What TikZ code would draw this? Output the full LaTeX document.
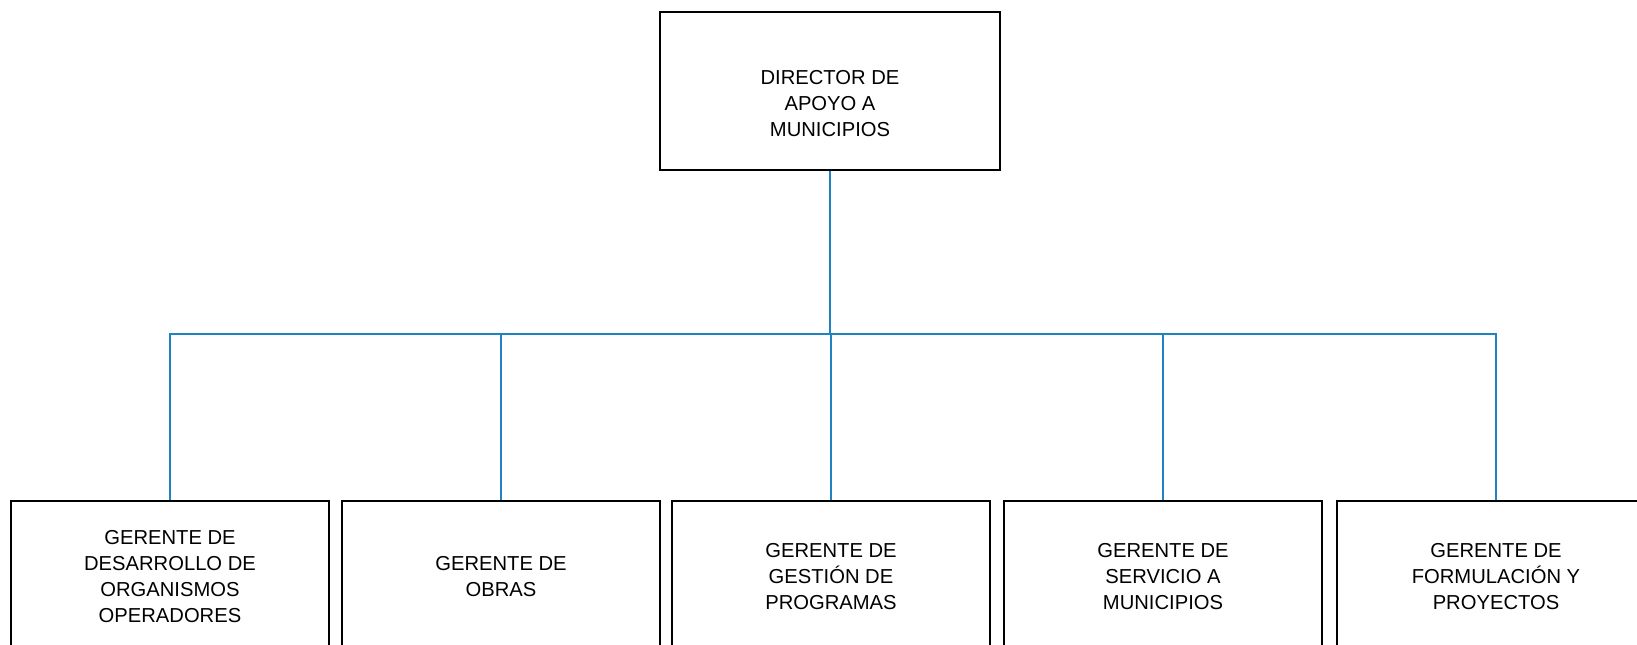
\documentclass[tikz,border=0pt]{standalone}
\usepackage{fontspec}
\setmainfont{Liberation Sans}
\definecolor{linkblue}{RGB}{30,130,195}
\tikzset{
  box/.style={draw, line width=1.1pt, align=center, font=\fontsize{11.5}{14.8}\selectfont},
  dirbox/.style={box, minimum width=6.8cm, minimum height=3.16cm, text height=52pt},
  gerbox/.style={box, minimum width=6.36cm, minimum height=3.04cm},
  link/.style={draw=linkblue, line width=1.2pt},
}
\begin{document}
\begin{tikzpicture}[x=0.02cm, y=-0.02cm]
	\useasboundingbox (0,0) rectangle (1637,645);
	\clip (0,0) rectangle (1637,645);

	\draw (830, 91) 	node[dirbox] 	(dir) 		{DIRECTOR DE\\APOYO A\\MUNICIPIOS};
	\draw (170, 577) 	node[gerbox] 	(g_des) 	{GERENTE DE\\DESARROLLO DE\\ORGANISMOS\\OPERADORES};
	\draw (501, 577) 	node[gerbox] 	(g_obr) 	{GERENTE DE\\OBRAS};
	\draw (831, 577) 	node[gerbox] 	(g_ges) 	{GERENTE DE\\GESTIÓN DE\\PROGRAMAS};
	\draw (1163, 577) 	node[gerbox] 	(g_ser) 	{GERENTE DE\\SERVICIO A\\MUNICIPIOS};
	\draw (1496, 577) 	node[gerbox] 	(g_for) 	{GERENTE DE\\FORMULACIÓN Y\\PROYECTOS};
	\coordinate (bus) at (830, 334);

	\draw[link, line width=1.6pt] (dir.south) -- (bus);
	\draw[link] (bus) -| (g_des.north);
	\draw[link] (bus) -| (g_obr.north);
	\draw[link] (bus) -| (g_ges.north);
	\draw[link] (bus) -| (g_ser.north);
	\draw[link] (bus) -| (g_for.north);
\end{tikzpicture}
\end{document}
